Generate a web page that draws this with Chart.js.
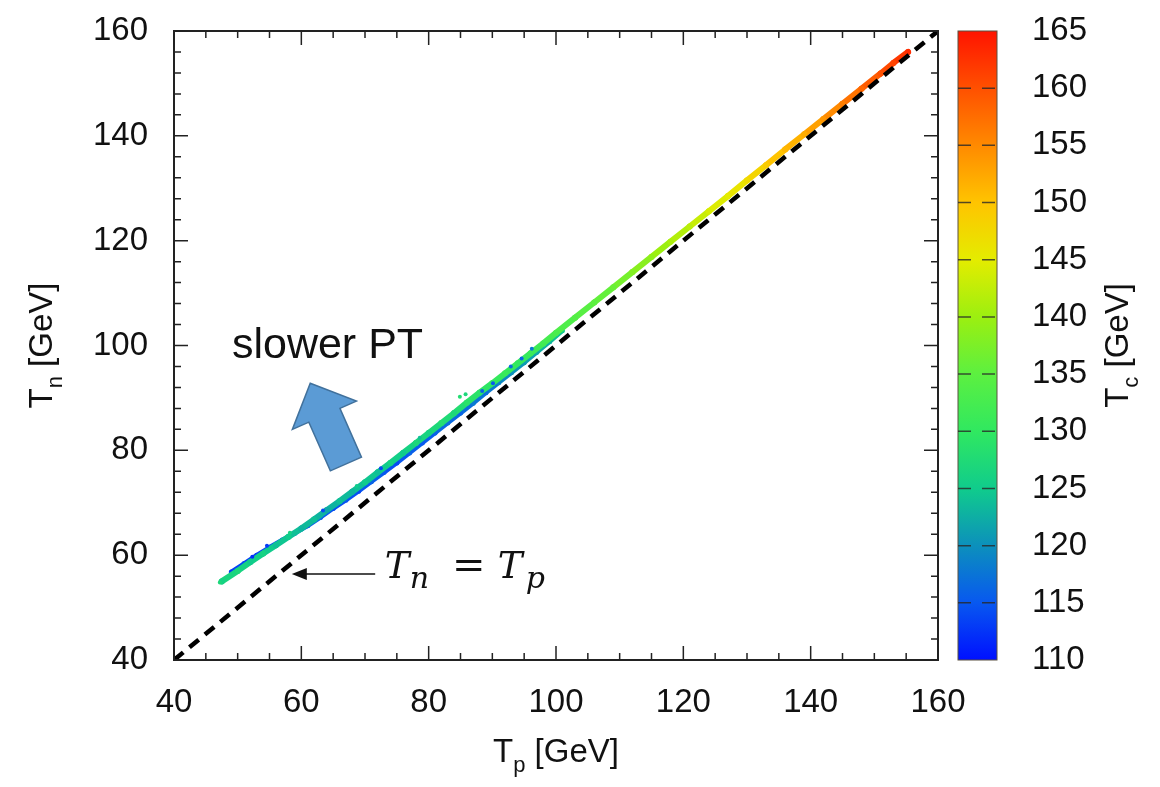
<!DOCTYPE html>
<html>
<head>
<meta charset="utf-8">
<script src="https://cdn.jsdelivr.net/npm/chart.js@4.4.0/dist/chart.umd.min.js"></script>
<style>
  html, body { margin: 0; padding: 0; background: #fff; }
  #wrap { width: 1160px; height: 787px; position: relative; }
</style>
</head>
<body>
<div id="wrap"><canvas id="myChart"></canvas></div>
<script>
// main band of points (T_p, T_n, T_c)
const bandTp = [47.5, 50, 52, 54, 56, 58, 60, 62, 64, 66, 68, 70, 72, 74, 76, 78, 80, 82, 84, 86, 88, 90, 92, 94, 96, 98,
  100, 103, 106, 109, 112, 115, 118, 121, 124, 127, 130, 133, 136, 139, 142, 145, 148, 151, 153, 155.3];
const bandTn = [55.0, 57.0, 58.7, 60.3, 61.9, 63.5, 65.1, 66.8, 68.6, 70.3, 72.1, 73.9, 75.8, 77.6, 79.5, 81.4, 83.3, 85.2, 87.1, 89.1, 91.0, 92.8, 94.7, 96.6, 98.5, 100.4,
  102.4, 105.3, 108.2, 111.1, 114.0, 116.9, 119.8, 122.7, 125.6, 128.5, 131.5, 134.4, 137.4, 140.3, 143.2, 146.1, 149.0, 151.9, 153.9, 156.0];
const bandTc = [126, 127, 125, 126, 124, 125, 123, 124, 122, 124, 123, 125, 124, 126, 125, 127, 126, 128, 127, 129, 129, 130, 131, 130, 131, 132,
  133, 134, 135, 136, 138, 139, 141, 142, 144, 145, 147, 149, 151, 152, 154, 156, 158, 160, 161, 163];

// second (mostly blue) edge of the band at low T
const edgeTp = [49, 51, 53, 55, 57, 59, 61, 63, 65, 67, 69, 71, 73, 75, 77, 79, 81, 83, 85, 87, 89, 91, 93, 95, 97, 99, 101];
const edgeTn = [56.8, 58.4, 60.0, 61.5, 62.9, 64.2, 65.6, 67.2, 68.9, 70.5, 72.2, 74.0, 75.8, 77.6, 79.5, 81.4, 83.3, 85.2, 87.1, 89.0, 91.0, 92.9, 94.8, 96.7, 98.7, 100.7, 102.8];
const edgeTc = [113, 114, 113, 114, 115, 114, 115, 116, 114, 115, 114, 116, 115, 114, 116, 115, 116, 117, 116, 118, 117, 119, 120, 121, 122, 123, 125];

// a few stray points off the band
const strayTp = [47.2, 52.3, 54.6, 58.2, 63.4, 68.7, 72.5, 78.6, 84.9, 85.8, 88.4, 90.1, 92.9, 94.6, 96.2];
const strayTn = [54.8, 59.7, 61.8, 64.3, 68.5, 73.2, 76.6, 82.4, 90.2, 90.7, 91.3, 92.8, 96.0, 97.5, 99.4];
const strayTc = [127, 112, 113, 126, 114, 125, 114, 124, 128, 127, 116, 115, 117, 116, 118];

// T_n = T_p reference line
const diagTp = [40, 160];
const diagTn = [40, 160];

// axes
const xTicks = [40, 60, 80, 100, 120, 140, 160];
const yTicks = [40, 60, 80, 100, 120, 140, 160];
const cbTicks = [110, 115, 120, 125, 130, 135, 140, 145, 150, 155, 160, 165];
const xMinorStep = 5;
const yMinorStep = 4;

// colour map for T_c
const cmapVals = [110, 115, 120, 125, 130, 135, 140, 145, 150, 155, 160, 165];
const cmapColors = ['#0010ff', '#0858f0', '#0c90bc', '#10cc8c', '#30e860', '#5cf040', '#9cef10', '#e4ec00', '#ffc400', '#ff8a00', '#ff5000', '#ff1400'];

function hexRgb(h) {
  return [parseInt(h.slice(1, 3), 16), parseInt(h.slice(3, 5), 16), parseInt(h.slice(5, 7), 16)];
}
function tcColor(v) {
  if (v <= cmapVals[0]) return cmapColors[0];
  for (let i = 1; i < cmapVals.length; i++) {
    if (v <= cmapVals[i]) {
      const t = (v - cmapVals[i - 1]) / (cmapVals[i] - cmapVals[i - 1]);
      const a = hexRgb(cmapColors[i - 1]), b = hexRgb(cmapColors[i]);
      return 'rgb(' + a.map((c, k) => Math.round(c + (b[k] - c) * t)).join(',') + ')';
    }
  }
  return cmapColors[cmapColors.length - 1];
}

const pts = (xs, ys) => xs.map((x, i) => ({ x: x, y: ys[i] }));
const FONT = '"Liberation Sans", Arial, sans-serif';
const CLEAR = 'rgba(0,0,0,0)';

// titles with a subscript, e.g. T_p [GeV]
function subTitle(ctx, main, sub, rest, size) {
  ctx.font = size + 'px ' + FONT;
  const w1 = ctx.measureText(main).width, w3 = ctx.measureText(rest).width;
  ctx.font = Math.round(size * 0.68) + 'px ' + FONT;
  const w2 = ctx.measureText(sub).width;
  let x = -(w1 + w2 + w3) / 2;
  ctx.textAlign = 'left';
  ctx.textBaseline = 'alphabetic';
  ctx.font = size + 'px ' + FONT;
  ctx.fillText(main, x, 0); x += w1;
  ctx.font = Math.round(size * 0.68) + 'px ' + FONT;
  ctx.fillText(sub, x, size * 0.3); x += w2;
  ctx.font = size + 'px ' + FONT;
  ctx.fillText(rest, x, 0);
}

const overlay = {
  id: 'overlay',
  afterDatasetsDraw(chart) {
    const { ctx, chartArea: a, scales } = chart;
    const xs = scales.x, ys = scales.y, cs = scales.cb;
    ctx.save();

    // frame + inward ticks on all sides
    ctx.strokeStyle = '#222';
    ctx.lineWidth = 2;
    ctx.strokeRect(a.left, a.top, a.right - a.left, a.bottom - a.top);
    ctx.lineWidth = 1.5;
    ctx.beginPath();
    for (let v = xs.min; v <= xs.max; v += xMinorStep) {
      const p = xs.getPixelForValue(v);
      const len = xTicks.includes(v) ? 14 : 7;
      ctx.moveTo(p, a.bottom); ctx.lineTo(p, a.bottom - len);
      ctx.moveTo(p, a.top); ctx.lineTo(p, a.top + len);
    }
    for (let v = ys.min; v <= ys.max; v += yMinorStep) {
      const p = ys.getPixelForValue(v);
      const len = yTicks.includes(v) ? 14 : 7;
      ctx.moveTo(a.left, p); ctx.lineTo(a.left + len, p);
      ctx.moveTo(a.right, p); ctx.lineTo(a.right - len, p);
    }
    ctx.stroke();

    // colour bar
    const bx = a.right + 20, bw = 39;
    const top = cs.getPixelForValue(cs.max), bot = cs.getPixelForValue(cs.min);
    const g = ctx.createLinearGradient(0, bot, 0, top);
    cmapVals.forEach((v, i) => g.addColorStop((v - cs.min) / (cs.max - cs.min), cmapColors[i]));
    ctx.fillStyle = g;
    ctx.fillRect(bx, top, bw, bot - top);
    ctx.strokeStyle = '#5a5040';
    ctx.lineWidth = 1;
    ctx.strokeRect(bx, top, bw, bot - top);
    ctx.setLineDash([13, 11]);
    ctx.strokeStyle = 'rgba(40,40,40,0.8)';
    ctx.lineWidth = 1.5;
    ctx.beginPath();
    cbTicks.slice(1, -1).forEach(v => {
      const p = cs.getPixelForValue(v);
      ctx.moveTo(bx, p); ctx.lineTo(bx + bw, p);
    });
    ctx.stroke();
    ctx.setLineDash([]);

    // axis titles
    ctx.fillStyle = '#111';
    const cy = (a.top + a.bottom) / 2;
    ctx.save();
    ctx.translate((a.left + a.right) / 2, a.bottom + 102);
    subTitle(ctx, 'T', 'p', ' [GeV]', 33);
    ctx.restore();
    ctx.save();
    ctx.translate(a.left - 122, cy);
    ctx.rotate(-Math.PI / 2);
    subTitle(ctx, 'T', 'n', ' [GeV]', 33);
    ctx.restore();
    ctx.save();
    ctx.translate(bx + 170, cy);
    ctx.rotate(-Math.PI / 2);
    subTitle(ctx, 'T', 'c', ' [GeV]', 33);
    ctx.restore();

    // "slower PT" note and block arrow
    ctx.font = '43px ' + FONT;
    ctx.textAlign = 'left';
    ctx.textBaseline = 'alphabetic';
    ctx.fillText('slower PT', xs.getPixelForValue(49.1), ys.getPixelForValue(97.6));

    const tipX = xs.getPixelForValue(61.4), tipY = ys.getPixelForValue(92.8);
    const tailX = xs.getPixelForValue(67.0), tailY = ys.getPixelForValue(77.4);
    const dx = tipX - tailX, dy = tipY - tailY, L = Math.hypot(dx, dy);
    const ux = dx / L, uy = dy / L, nx = -uy, ny = ux;
    const headLen = 35, headW = 35, shaftW = 17;
    const hx = tipX - ux * headLen, hy = tipY - uy * headLen;
    ctx.beginPath();
    ctx.moveTo(tipX, tipY);
    ctx.lineTo(hx + nx * headW, hy + ny * headW);
    ctx.lineTo(hx + nx * shaftW, hy + ny * shaftW);
    ctx.lineTo(tailX + nx * shaftW, tailY + ny * shaftW);
    ctx.lineTo(tailX - nx * shaftW, tailY - ny * shaftW);
    ctx.lineTo(hx - nx * shaftW, hy - ny * shaftW);
    ctx.lineTo(hx - nx * headW, hy - ny * headW);
    ctx.closePath();
    ctx.fillStyle = '#5b9bd5';
    ctx.fill();
    ctx.strokeStyle = '#41719c';
    ctx.lineWidth = 1.5;
    ctx.stroke();

    // T_n = T_p label with pointer
    const lx = xs.getPixelForValue(73.1), ly = ys.getPixelForValue(55.6);
    ctx.fillStyle = '#111';
    ctx.font = 'italic 37px "DejaVu Serif", serif';
    ctx.fillText('T', lx, ly);
    ctx.fillText('T', lx + 113, ly);
    ctx.font = 'italic 30px "DejaVu Serif", serif';
    ctx.fillText('n', lx + 25, ly + 10);
    ctx.fillText('p', lx + 141, ly + 10);
    ctx.font = '40px "DejaVu Serif", serif';
    ctx.textAlign = 'center';
    ctx.fillText('=', lx + 84, ly);

    const ax0 = xs.getPixelForValue(71.6), ax1 = xs.getPixelForValue(58.5), ay = ys.getPixelForValue(56.4);
    ctx.strokeStyle = '#111';
    ctx.lineWidth = 1.5;
    ctx.beginPath();
    ctx.moveTo(ax0, ay); ctx.lineTo(ax1 + 12, ay);
    ctx.stroke();
    ctx.beginPath();
    ctx.moveTo(ax1, ay); ctx.lineTo(ax1 + 15, ay - 6); ctx.lineTo(ax1 + 15, ay + 6);
    ctx.closePath();
    ctx.fillStyle = '#111';
    ctx.fill();

    ctx.restore();
  }
};

const ctx = document.getElementById('myChart').getContext('2d');
const myChart = new Chart(ctx, {
  type: 'scatter',
  data: {
    datasets: [
      {
        label: 'T_n = T_p',
        data: pts(diagTp, diagTn),
        showLine: true,
        borderColor: '#000',
        borderWidth: 4.5,
        borderDash: [12, 8],
        pointRadius: 0
      },
      {
        label: 'stray',
        data: pts(strayTp, strayTn),
        pointRadius: 2,
        pointBorderWidth: 0,
        pointBackgroundColor: strayTc.map(tcColor)
      },
      {
        label: 'band',
        data: pts(bandTp, bandTn),
        showLine: true,
        borderWidth: 6,
        borderCapStyle: 'round',
        borderJoinStyle: 'round',
        segment: { borderColor: c => tcColor((bandTc[c.p0DataIndex] + bandTc[c.p1DataIndex]) / 2) },
        pointRadius: 3,
        pointBorderWidth: 0,
        pointBackgroundColor: bandTc.map(tcColor)
      },
      {
        label: 'edge',
        data: pts(edgeTp, edgeTn),
        showLine: true,
        borderWidth: 4.5,
        borderCapStyle: 'round',
        borderJoinStyle: 'round',
        segment: { borderColor: c => tcColor((edgeTc[c.p0DataIndex] + edgeTc[c.p1DataIndex]) / 2) },
        pointRadius: 2.5,
        pointBorderWidth: 0,
        pointBackgroundColor: edgeTc.map(tcColor)
      }
    ]
  },
  options: {
    responsive: true,
    maintainAspectRatio: false,
    animation: false,
    layout: { padding: { top: 31, left: 0, right: 0, bottom: 0 } },
    plugins: { legend: { display: false }, tooltip: { enabled: false } },
    scales: {
      x: {
        type: 'linear',
        min: xTicks[0],
        max: xTicks[xTicks.length - 1],
        grid: { display: true, drawOnChartArea: false, drawTicks: true, tickLength: 23, color: CLEAR, tickColor: CLEAR },
        border: { display: false },
        ticks: { stepSize: 20, maxRotation: 0, autoSkip: false, padding: 0, color: '#111', font: { size: 33, family: FONT } },
        afterFit: s => { s.height = 127; }
      },
      y: {
        type: 'linear',
        min: yTicks[0],
        max: yTicks[yTicks.length - 1],
        grid: { display: true, drawOnChartArea: false, drawTicks: true, tickLength: 26, color: CLEAR, tickColor: CLEAR },
        border: { display: false },
        ticks: { stepSize: 20, autoSkip: false, padding: 0, color: '#111', font: { size: 33, family: FONT } },
        afterFit: s => { s.width = 174; }
      },
      cb: {
        type: 'linear',
        axis: 'y',
        position: 'right',
        min: cbTicks[0],
        max: cbTicks[cbTicks.length - 1],
        grid: { display: true, drawOnChartArea: false, drawTicks: true, tickLength: 94, color: CLEAR, tickColor: CLEAR },
        border: { display: false },
        ticks: { stepSize: 5, autoSkip: false, padding: 0, color: '#111', font: { size: 33, family: FONT } },
        afterFit: s => { s.width = 222; }
      }
    }
  },
  plugins: [overlay]
});
</script>
</body>
</html>
